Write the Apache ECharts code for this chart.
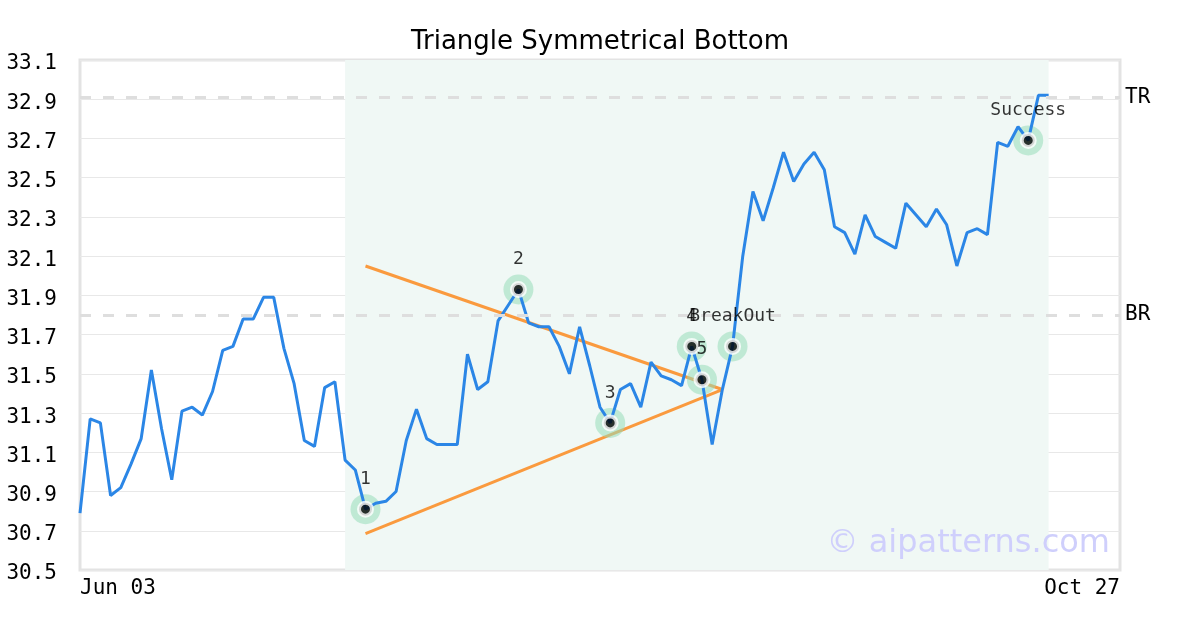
<!DOCTYPE html>
<html>
<head>
<meta charset="utf-8">
<script src="https://cdn.jsdelivr.net/npm/echarts@6/dist/echarts.min.js"></script>
<style>html,body{margin:0;padding:0;background:#fff}#c{width:1200px;height:630px}</style>
</head>
<body>
<div id="c"></div>
<script>
// ---- data ----
const firstDay = '2020-06-03';
const lastDay = '2020-10-27';
const holidays = ['2020-07-03', '2020-09-07'];
const prices = [
  30.79, 31.27, 31.25, 30.88, 30.92, 31.04, 31.17, 31.52, 31.22, 30.96,
  31.31, 31.33, 31.29, 31.41, 31.62, 31.64, 31.78, 31.78, 31.89, 31.89,
  31.63, 31.45, 31.16, 31.13, 31.43, 31.46, 31.06, 31.01, 30.81, 30.84,
  30.85, 30.90, 31.16, 31.32, 31.17, 31.14, 31.14, 31.14, 31.60, 31.42,
  31.46, 31.77, 31.85, 31.93, 31.76, 31.74, 31.74, 31.64, 31.50, 31.74,
  31.54, 31.33, 31.25, 31.42, 31.45, 31.33, 31.56, 31.49, 31.47, 31.44,
  31.64, 31.47, 31.14, 31.42, 31.64, 32.10, 32.43, 32.28, 32.45, 32.63,
  32.48, 32.57, 32.63, 32.54, 32.25, 32.22, 32.11, 32.31, 32.20, 32.17,
  32.14, 32.37, 32.31, 32.25, 32.34, 32.26, 32.05, 32.22, 32.24, 32.21,
  32.68, 32.66, 32.76, 32.69, 32.92, 32.92
];
const patternIdx = [28, 43, 52, 60, 61, 64, 93];
const patternLabels = ['1', '2', '3', '4', '5', 'BreakOut', 'Success'];
const upperTrend = [[28, 32.05], [63, 31.42]];
const lowerTrend = [[28, 30.685], [63, 31.42]];
const shadeRange = [26, 95];
const levelTR = 32.915;
const levelBR = 31.80;
const yMin = 30.5, yMax = 33.1, yStep = 0.2;

// trading-day categories
const monthNames = ['Jan','Feb','Mar','Apr','May','Jun','Jul','Aug','Sep','Oct','Nov','Dec'];
function tradingDays(a, b, hol) {
  const out = [];
  const d = new Date(a + 'T00:00:00Z');
  const end = new Date(b + 'T00:00:00Z');
  while (d <= end) {
    const iso = d.toISOString().slice(0, 10);
    const wd = d.getUTCDay();
    if (wd !== 0 && wd !== 6 && hol.indexOf(iso) < 0) {
      out.push(monthNames[d.getUTCMonth()] + ' ' + String(d.getUTCDate()).padStart(2, '0'));
    }
    d.setUTCDate(d.getUTCDate() + 1);
  }
  return out;
}
const categories = tradingDays(firstDay, lastDay, holidays);

const patternPoints = patternIdx.map((i, k) => ({ value: [i, prices[i]], name: patternLabels[k] }));

const mono = 'DejaVu Sans Mono';
const chart = echarts.init(document.getElementById('c'), null, { renderer: 'canvas' });
chart.setOption({
  animation: false,
  backgroundColor: '#fff',
  title: {
    text: 'Triangle Symmetrical Bottom',
    left: 'center', top: 24,
    textStyle: { fontFamily: 'DejaVu Sans', fontSize: 26, fontWeight: 'normal', color: '#000' }
  },
  grid: {
    left: 80, right: 80, top: 60, bottom: 60,
    show: true, borderColor: '#e3e3e3', borderWidth: 3, backgroundColor: 'transparent'
  },
  xAxis: {
    type: 'category',
    data: categories,
    boundaryGap: false,
    axisLine: { show: false },
    axisTick: { show: false },
    splitLine: { show: false },
    axisLabel: {
      interval: (i) => i === 0 || i === categories.length - 1,
      alignMinLabel: 'left', alignMaxLabel: 'right',
      showMinLabel: true, showMaxLabel: true,
      fontFamily: mono, fontSize: 21, color: '#000', margin: 8
    }
  },
  yAxis: {
    type: 'value',
    min: yMin, max: yMax, interval: yStep,
    axisLine: { show: false },
    axisTick: { show: false },
    splitLine: { show: true, lineStyle: { color: '#e8e8e8', width: 1 } },
    axisLabel: {
      margin: 23,
      formatter: (v) => '{t|' + v.toFixed(1) + '}',
      rich: {
        t: { fontFamily: mono, fontSize: 21, color: '#000', padding: [8, 0, 0, 0] }
      }
    }
  },
  graphic: [{
    type: 'text', right: 90, top: 528, z: 100,
    style: { text: '\u00a9 aipatterns.com', fontFamily: 'DejaVu Sans', fontSize: 32, fill: '#cfcffc' }
  }],
  series: [
    {
      type: 'line', name: 'upper', data: upperTrend, symbol: 'none', z: 2,
      lineStyle: { color: '#fa9a3e', width: 3 }
    },
    {
      type: 'line', name: 'lower', data: lowerTrend, symbol: 'none', z: 2,
      lineStyle: { color: '#fa9a3e', width: 3 }
    },
    {
      type: 'scatter', name: 'halo', data: patternPoints, symbolSize: 30, z: 3,
      itemStyle: { color: 'rgba(150,219,185,0.68)' }, silent: true
    },
    {
      type: 'line', name: 'price', data: prices, symbol: 'none', z: 4,
      lineStyle: { color: '#2b86e6', width: 3 },
      markArea: {
        silent: true,
        itemStyle: { color: '#f0f8f5' },
        data: [[{ xAxis: categories[shadeRange[0]] }, { xAxis: categories[shadeRange[1]] }]]
      },
      markLine: {
        silent: true, symbol: 'none',
        lineStyle: { color: '#dedede', type: [11, 12], width: 3 },
        label: { position: 'end', fontFamily: mono, fontSize: 21, color: '#000', distance: 5 },
        data: [
          { yAxis: levelTR, label: { formatter: 'TR' } },
          { yAxis: levelBR, label: { formatter: 'BR' } }
        ]
      }
    },
    {
      type: 'scatter', name: 'points', data: patternPoints, symbolSize: 13, z: 5,
      itemStyle: { color: '#000', borderColor: '#fff', borderWidth: 4 },
      label: {
        show: true, position: 'inside', offset: [0, -30],
        formatter: (p) => p.name,
        fontFamily: mono, fontSize: 18, color: '#000'
      }
    }
  ]
});
</script>
</body>
</html>
